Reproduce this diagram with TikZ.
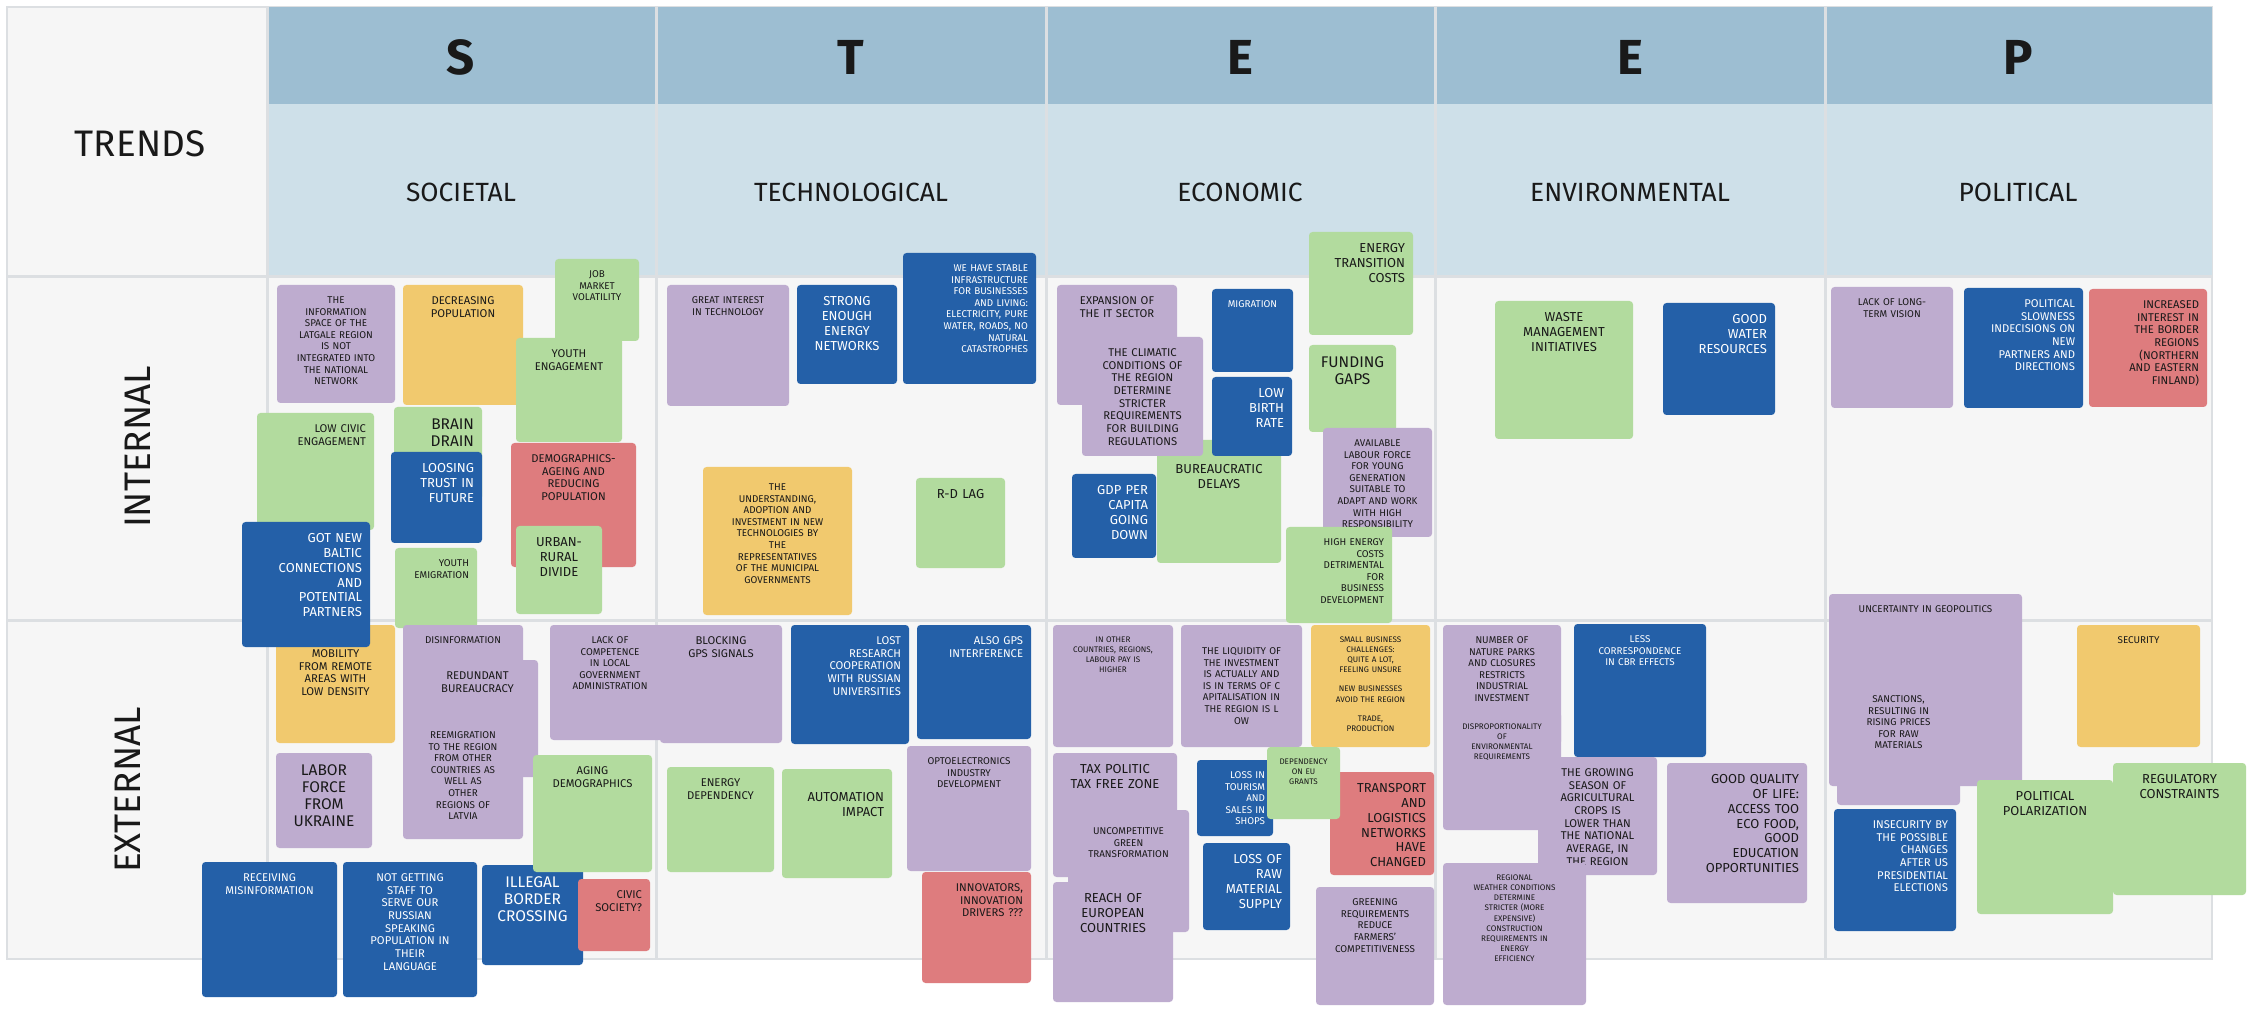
\documentclass[tikz,border=0pt]{standalone}
\usepackage{fontspec}
\setmainfont{Fira Sans}
\usepackage{tikz}
\usetikzlibrary{positioning, calc}

\definecolor{hdrdark}{RGB}{157,190,210}
\definecolor{hdrlight}{RGB}{206,224,233}
\definecolor{board}{RGB}{246,246,246}
\definecolor{gridline}{RGB}{220,223,226}
\definecolor{npurple}{RGB}{190,172,207}
\definecolor{nyellow}{RGB}{241,201,110}
\definecolor{ngreen}{RGB}{178,219,158}
\definecolor{nblue}{RGB}{36,96,168}
\definecolor{nred}{RGB}{222,124,126}
\definecolor{ink}{RGB}{25,25,25}

% sticky note: [text options]{fill style}{x1}{y1}{x2}{y2}{name}{text}
\newcommand{\postit}[8][]{%
  \fill[#2] (#3,#4) rectangle (#5,#6);
  \pgfmathsetmacro{\notew}{(#5-#3-16)*0.1}%
  \node[notetext, text width=\notew mm, #1] (#7) at ({(#3+#5)/2},#4+11) {#8};%
}

\begin{document}
\begin{tikzpicture}[x=0.1mm, y=-0.1mm,
    purp/.style={fill=npurple, rounded corners=0.35mm},
    yell/.style={fill=nyellow, rounded corners=0.35mm},
    gree/.style={fill=ngreen, rounded corners=0.35mm},
    blu/.style={fill=nblue, rounded corners=0.35mm},
    redd/.style={fill=nred, rounded corners=0.35mm},
    notetext/.style={anchor=north, align=center, inner sep=0pt, text=ink},
    sz0/.style={font=\fontsize{2.3}{2.9}\selectfont},
    sz1/.style={font=\fontsize{2.8}{3.3}\selectfont},
    sz2/.style={font=\fontsize{3.2}{3.6}\selectfont},
    sz3/.style={font=\fontsize{3.7}{4.2}\selectfont},
    sz4/.style={font=\fontsize{4.4}{4.8}\selectfont},
    letter/.style={font=\fontsize{14}{14}\selectfont\bfseries, text=ink},
    trend/.style={font=\fontsize{7.5}{8}\selectfont, text=ink},
    rowlabel/.style={font=\fontsize{10.5}{11}\selectfont, text=ink}]
  \useasboundingbox (0,0) rectangle (2262,1013);
  \fill[white] (0,0) rectangle (2262,1013);

  % board and header rows
  \fill[board, draw=gridline] (7,7) rectangle (2212,959);
  \fill[hdrdark] (267,7) rectangle (2212,104);
  \fill[hdrlight] (267,104) rectangle (2212,277);
  \draw[gridline, line width=0.3mm]
    (7,277) -- (2212,277)
    (7,620) -- (2212,620)
    (267,7) -- (267,959)
    (656,7) -- (656,959)
    (1046,7) -- (1046,959)
    (1435,7) -- (1435,959)
    (1825,7) -- (1825,959);

  \node[rowlabel] (trends) at (140,144) {TRENDS};
  \node[rowlabel, rotate=90] (internal) at (138,447) {INTERNAL};
  \node[rowlabel, rotate=90] (external) at (128,790) {EXTERNAL};

  \node[letter] (hs) at (461,57) {S};
  \node[letter] (ht) at (851,57) {T};
  \node[letter] (he1) at (1240,57) {E};
  \node[letter] (he2) at (1630,57) {E};
  \node[letter] (hp) at (2018,57) {P};
  \node[trend] (societal) at (461,192) {SOCIETAL};
  \node[trend] (technological) at (851,192) {TECHNOLOGICAL};
  \node[trend] (economic) at (1240,192) {ECONOMIC};
  \node[trend] (environmental) at (1630,192) {ENVIRONMENTAL};
  \node[trend] (political) at (2018,192) {POLITICAL};

  % societal
  \postit[sz1]{purp}{277}{285}{395}{403}{s-info}{THE\\INFORMATION\\SPACE OF THE\\LATGALE REGION\\IS NOT\\INTEGRATED INTO\\THE NATIONAL\\NETWORK}
  \postit[sz2]{yell}{403}{285}{523}{405}{s-decr}{DECREASING\\POPULATION}
  \postit[sz2]{gree}{516}{338}{622}{442}{s-youth}{YOUTH\\ENGAGEMENT}
  \postit[sz1]{gree}{555}{259}{639}{341}{s-job}{JOB\\MARKET\\VOLATILITY}
  \postit[sz2, align=right]{gree}{257}{413}{374}{530}{s-civic}{LOW CIVIC\\ENGAGEMENT}
  \postit[sz4, align=right]{gree}{394}{407}{482}{500}{s-brain}{BRAIN\\DRAIN}
  \postit[sz3, text=white, align=right]{blu}{391}{452}{482}{543}{s-trust}{LOOSING\\TRUST IN\\FUTURE}
  \postit[sz2]{redd}{511}{443}{636}{567}{s-demo}{DEMOGRAPHICS-\\AGEING AND\\REDUCING\\POPULATION}
  \postit[sz3]{gree}{516}{526}{602}{614}{s-urban}{URBAN-\\RURAL\\DIVIDE}
  \postit[sz1, align=right]{gree}{395}{548}{477}{628}{s-emig}{YOUTH\\EMIGRATION}
  \postit[sz2, yshift=-1.3mm]{yell}{276}{625}{395}{743}{s-mob}{MOBILITY\\FROM REMOTE\\AREAS WITH\\LOW DENSITY}
  \postit[sz3, text=white, align=right]{blu}{242}{522}{370}{647}{s-baltic}{GOT NEW\\BALTIC\\CONNECTIONS\\AND\\POTENTIAL\\PARTNERS}
  \postit[sz1]{purp}{403}{625}{523}{740}{s-disinf}{DISINFORMATION}
  \postit[sz2]{purp}{417}{660}{538}{777}{s-redund}{REDUNDANT\\BUREAUCRACY}
  \postit[sz1]{purp}{403}{720}{523}{839}{s-reemig}{REEMIGRATION\\TO THE REGION\\FROM OTHER\\COUNTRIES AS\\WELL AS\\OTHER\\REGIONS OF\\LATVIA}
  \postit[sz1]{purp}{550}{625}{670}{740}{s-lack}{LACK OF\\COMPETENCE\\IN LOCAL\\GOVERNMENT\\ADMINISTRATION}
  \postit[sz4]{purp}{276}{753}{372}{848}{s-labor}{LABOR\\FORCE\\FROM\\UKRAINE}
  \postit[sz2, text=white]{blu}{202}{862}{337}{997}{s-misinf}{RECEIVING\\MISINFORMATION}
  \postit[sz2, text=white]{blu}{343}{862}{477}{997}{s-staff}{NOT GETTING\\STAFF TO\\SERVE OUR\\RUSSIAN\\SPEAKING\\POPULATION IN\\THEIR\\LANGUAGE}
  \postit[sz4, text=white]{blu}{482}{865}{583}{965}{s-border}{ILLEGAL\\BORDER\\CROSSING}
  \postit[sz2, align=right]{redd}{578}{879}{650}{951}{s-civsoc}{CIVIC\\SOCIETY?}
  \postit[sz2]{gree}{533}{755}{652}{872}{s-aging}{AGING\\DEMOGRAPHICS}

  % technological
  \postit[sz1]{purp}{667}{285}{789}{406}{t-interest}{GREAT INTEREST\\IN TECHNOLOGY}
  \postit[sz3, text=white]{blu}{797}{285}{897}{384}{t-energy}{STRONG\\ENOUGH\\ENERGY\\NETWORKS}
  \postit[sz1, text=white, align=right]{blu}{903}{253}{1036}{384}{t-infra}{WE HAVE STABLE\\INFRASTRUCTURE\\FOR BUSINESSES\\AND LIVING:\\ELECTRICITY, PURE\\WATER, ROADS, NO\\NATURAL\\CATASTROPHES}
  \postit[sz1, yshift=-0.5mm]{yell}{703}{467}{852}{615}{t-underst}{THE\\UNDERSTANDING,\\ADOPTION AND\\INVESTMENT IN NEW\\TECHNOLOGIES BY\\THE\\REPRESENTATIVES\\OF THE MUNICIPAL\\GOVERNMENTS}
  \postit[sz3]{gree}{916}{478}{1005}{568}{t-rdlag}{R-D LAG}
  \postit[sz2]{purp}{660}{625}{782}{743}{t-gps}{BLOCKING\\GPS SIGNALS}
  \postit[sz2, text=white, align=right]{blu}{791}{625}{909}{744}{t-research}{LOST\\RESEARCH\\COOPERATION\\WITH RUSSIAN\\UNIVERSITIES}
  \postit[sz2, text=white, align=right]{blu}{917}{625}{1031}{739}{t-gpsint}{ALSO GPS\\INTERFERENCE}
  \postit[sz2]{gree}{667}{767}{774}{872}{t-depend}{ENERGY\\DEPENDENCY}
  \postit[sz3, align=right, yshift=-1.2mm]{gree}{782}{769}{892}{878}{t-auto}{AUTOMATION\\IMPACT}
  \postit[sz1]{purp}{907}{746}{1031}{871}{t-opto}{OPTOELECTRONICS\\INDUSTRY\\DEVELOPMENT}
  \postit[sz2, align=right]{redd}{922}{872}{1031}{983}{t-innov}{INNOVATORS,\\INNOVATION\\DRIVERS ???}

  % economic
  \postit[sz2]{purp}{1057}{285}{1177}{405}{e-it}{EXPANSION OF\\THE IT SECTOR}
  \postit[sz3, yshift=-1.3mm]{gree}{1157}{440}{1281}{563}{e-delays}{BUREAUCRATIC\\DELAYS}
  \postit[sz2]{purp}{1082}{337}{1203}{456}{e-climat}{THE CLIMATIC\\CONDITIONS OF\\THE REGION\\DETERMINE\\STRICTER\\REQUIREMENTS\\FOR BUILDING\\REGULATIONS}
  \postit[sz1, text=white]{blu}{1212}{289}{1293}{372}{e-migr}{MIGRATION}
  \postit[sz3, text=white, align=right]{blu}{1212}{377}{1292}{456}{e-birth}{LOW\\BIRTH\\RATE}
  \postit[sz3, align=right]{gree}{1309}{232}{1413}{335}{e-trans}{ENERGY\\TRANSITION\\COSTS}
  \postit[sz4]{gree}{1309}{345}{1396}{432}{e-fund}{FUNDING\\GAPS}
  \postit[sz1]{purp}{1323}{428}{1432}{537}{e-labour}{AVAILABLE\\LABOUR FORCE\\FOR YOUNG\\GENERATION\\SUITABLE TO\\ADAPT AND WORK\\WITH HIGH\\RESPONSIBILITY}
  \postit[sz3, text=white, align=right]{blu}{1072}{474}{1156}{558}{e-gdp}{GDP PER\\CAPITA\\GOING\\DOWN}
  \postit[sz1, align=right]{gree}{1286}{527}{1392}{623}{e-costs}{HIGH ENERGY\\COSTS\\DETRIMENTAL\\FOR\\BUSINESS\\DEVELOPMENT}
  \postit[sz0]{purp}{1053}{625}{1173}{747}{e-pay}{IN OTHER\\COUNTRIES, REGIONS,\\LABOUR PAY IS\\HIGHER}
  \postit[sz1, yshift=-1.1mm]{purp}{1181}{625}{1302}{747}{e-liquid}{THE LIQUIDITY OF\\THE INVESTMENT\\IS ACTUALLY AND\\IS IN TERMS OF C\\APITALISATION IN\\THE REGION IS L\\OW}
  \postit[sz0]{yell}{1311}{625}{1430}{747}{e-small}{SMALL BUSINESS\\CHALLENGES:\\QUITE A LOT,\\FEELING UNSURE\\[2.5pt]NEW BUSINESSES\\AVOID THE REGION\\[2.5pt]TRADE,\\PRODUCTION}
  \postit[sz3]{purp}{1053}{753}{1177}{877}{e-tax}{TAX POLITIC\\TAX FREE ZONE}
  \postit[sz1, yshift=-0.6mm]{purp}{1068}{810}{1189}{932}{e-uncomp}{UNCOMPETITIVE\\GREEN\\TRANSFORMATION}
  \postit[sz3]{purp}{1053}{882}{1173}{1002}{e-reach}{REACH OF\\EUROPEAN\\COUNTRIES}
  \postit[sz1, text=white, align=right]{blu}{1197}{760}{1273}{836}{e-tour}{LOSS IN\\TOURISM\\AND\\SALES IN\\SHOPS}
  \postit[sz3, align=right]{redd}{1330}{772}{1434}{875}{e-transp}{TRANSPORT\\AND\\LOGISTICS\\NETWORKS\\HAVE\\CHANGED}
  \postit[sz0]{gree}{1267}{747}{1340}{819}{e-grants}{DEPENDENCY\\ON EU\\GRANTS}
  \postit[sz3, text=white, align=right]{blu}{1203}{843}{1290}{930}{e-raw}{LOSS OF\\RAW\\MATERIAL\\SUPPLY}
  \postit[sz1]{purp}{1316}{887}{1434}{1005}{e-green}{GREENING\\REQUIREMENTS\\REDUCE\\FARMERS'\\COMPETITIVENESS}

  % environmental
  \postit[sz3]{gree}{1495}{301}{1633}{439}{v-waste}{WASTE\\MANAGEMENT\\INITIATIVES}
  \postit[sz3, text=white, align=right]{blu}{1663}{303}{1775}{415}{v-water}{GOOD\\WATER\\RESOURCES}
  \postit[sz1]{purp}{1443}{625}{1561}{745}{v-parks}{NUMBER OF\\NATURE PARKS\\AND CLOSURES\\RESTRICTS\\INDUSTRIAL\\INVESTMENT}
  \postit[sz0]{purp}{1443}{712}{1561}{830}{v-dispr}{DISPROPORTIONALITY\\OF\\ENVIRONMENTAL\\REQUIREMENTS}
  \postit[sz1, text=white]{blu}{1574}{624}{1706}{757}{v-cbr}{LESS\\CORRESPONDENCE\\IN CBR EFFECTS}
  \postit[sz2]{purp}{1538}{757}{1657}{875}{v-season}{THE GROWING\\SEASON OF\\AGRICULTURAL\\CROPS IS\\LOWER THAN\\THE NATIONAL\\AVERAGE, IN\\THE REGION}
  \postit[sz3, align=right]{purp}{1667}{763}{1807}{903}{v-life}{GOOD QUALITY\\OF LIFE:\\ACCESS TOO\\ECO FOOD,\\GOOD\\EDUCATION\\OPPORTUNITIES}
  \postit[sz0]{purp}{1443}{863}{1586}{1005}{v-weather}{REGIONAL\\WEATHER CONDITIONS\\DETERMINE\\STRICTER (MORE\\EXPENSIVE)\\CONSTRUCTION\\REQUIREMENTS IN\\ENERGY\\EFFICIENCY}

  % political
  \postit[sz1]{purp}{1831}{287}{1953}{408}{p-vision}{LACK OF LONG-\\TERM VISION}
  \postit[sz2, text=white, align=right]{blu}{1964}{288}{2083}{408}{p-slow}{POLITICAL\\SLOWNESS\\INDECISIONS ON\\NEW\\PARTNERS AND\\DIRECTIONS}
  \postit[sz2, align=right]{redd}{2089}{289}{2207}{407}{p-border}{INCREASED\\INTEREST IN\\THE BORDER\\REGIONS\\(NORTHERN\\AND EASTERN\\FINLAND)}
  \postit[sz1]{purp}{1829}{594}{2022}{786}{p-geo}{UNCERTAINTY IN GEOPOLITICS}
  \postit[sz1, yshift=-0.4mm]{purp}{1837}{680}{1960}{805}{p-sanct}{SANCTIONS,\\RESULTING IN\\RISING PRICES\\FOR RAW\\MATERIALS}
  \postit[sz1]{yell}{2077}{625}{2200}{747}{p-secur}{SECURITY}
  \postit[sz2, text=white, align=right]{blu}{1834}{809}{1956}{931}{p-insec}{INSECURITY BY\\THE POSSIBLE\\CHANGES\\AFTER US\\PRESIDENTIAL\\ELECTIONS}
  \postit[sz3]{gree}{1977}{780}{2113}{914}{p-polar}{POLITICAL\\POLARIZATION}
  \postit[sz3]{gree}{2113}{763}{2246}{895}{p-regul}{REGULATORY\\CONSTRAINTS}
\end{tikzpicture}
\end{document}
